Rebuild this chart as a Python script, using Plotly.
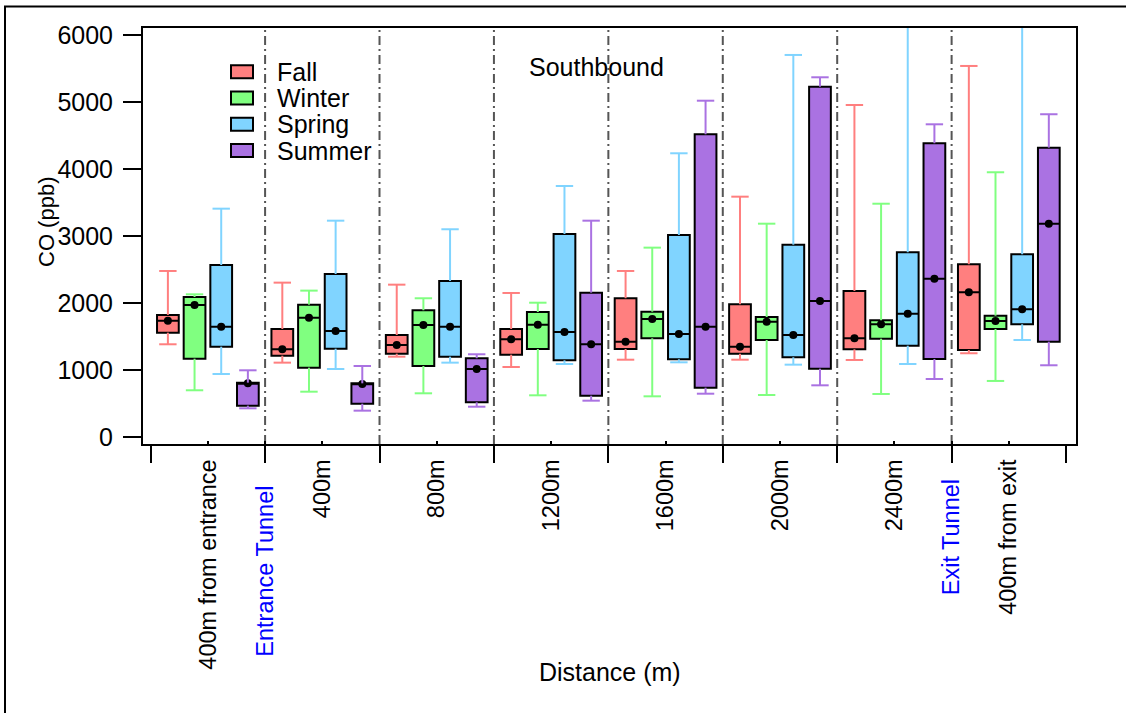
import plotly.graph_objects as go

# ---- data: CO concentration (ppb) along the tunnel, southbound ----
groups = ["400m from entrance", "400m", "800m", "1200m", "1600m", "2000m", "2400m", "400m from exit"]
seasons = ["Fall", "Winter", "Spring", "Summer"]

fall_lower = [1387, 1113, 1202, 1048, 1157, 1157, 1153, 1253]
fall_q1 = [1560, 1217, 1247, 1232, 1317, 1247, 1312, 1302]
fall_median = [1739, 1312, 1376, 1461, 1426, 1351, 1476, 2162]
fall_q3 = [1825, 1615, 1525, 1615, 2073, 1983, 2182, 2580]
fall_upper = [2480, 2306, 2276, 2152, 2480, 3588, 4955, 5537]

winter_lower = [701, 680, 656, 626, 611, 631, 646, 840]
winter_q1 = [1172, 1038, 1063, 1317, 1476, 1451, 1470, 1615]
winter_median = [1973, 1784, 1675, 1679, 1764, 1724, 1685, 1734]
winter_q3 = [2092, 1978, 1894, 1868, 1873, 1794, 1745, 1813]
winter_upper = [2132, 2187, 2073, 2007, 2828, 3185, 3483, 3952]

spring_lower = [944, 1018, 1113, 1093, 1118, 1083, 1093, 1451]
spring_q1 = [1351, 1321, 1202, 1148, 1163, 1193, 1366, 1685]
spring_median = [1649, 1585, 1649, 1570, 1540, 1525, 1843, 1909]
spring_q3 = [2569, 2435, 2331, 3032, 3017, 2872, 2759, 2729]
spring_upper = [3409, 3230, 3102, 3747, 4235, 5701, 6400, 6400]

summer_lower = [432, 397, 456, 546, 650, 775, 869, 1074]
summer_q1 = [472, 501, 522, 620, 740, 1023, 1168, 1426]
summer_median = [805, 795, 1018, 1387, 1649, 2033, 2365, 3185]
summer_q3 = [815, 805, 1178, 2157, 4518, 5228, 4384, 4319]
summer_upper = [999, 1063, 1238, 3230, 5019, 5368, 4667, 4817]

# tick labels: group names plus the two tunnel portals (on the group boundaries);
# trailing no-break spaces push the portal labels below the long boundary ticks
NB = "\u00a0"
tick_positions = [0, 0.5, 1, 2, 3, 4, 5, 6, 6.5, 7]
tick_labels = [
    "400m from entrance",
    '<span style="color:#0000FF">Entrance Tunnel</span>' + NB * 4,
    "400m", "800m", "1200m", "1600m", "2000m", "2400m",
    '<span style="color:#0000FF">Exit Tunnel</span>' + NB * 3,
    "400m from exit",
]
y_ticks = [0, 1000, 2000, 3000, 4000, 5000, 6000]

stats = {
    "Fall": (fall_lower, fall_q1, fall_median, fall_q3, fall_upper),
    "Winter": (winter_lower, winter_q1, winter_median, winter_q3, winter_upper),
    "Spring": (spring_lower, spring_q1, spring_median, spring_q3, spring_upper),
    "Summer": (summer_lower, summer_q1, summer_median, summer_q3, summer_upper),
}
colors = {"Fall": "#FF7F7F", "Winter": "#80FF80", "Spring": "#80D4FF", "Summer": "#AA72E2"}

# ---- geometry ----
W, H = 1126, 713
ML, MR, MT, MB = 143, 50, 28, 269
PW, PH = W - ML - MR, H - MT - MB
FONT = "Liberation Sans"
FS = 25

step = 0.233          # spacing between seasons inside a group
box_w = 0.19          # box width in axis units
cap = 0.076           # half width of whisker caps
offsets = [(k - 1.5) * step for k in range(len(seasons))]
n = len(groups)
boundaries = [i - 0.5 for i in range(n + 1)]


def px_x(p):
    return (p - ML) / PW


def px_y(p):
    return (MT + PH - p) / PH


fig = go.Figure()

for k, s in enumerate(seasons):
    lo, q1, med, q3, up = stats[s]
    xs = [i + offsets[k] for i in range(n)]
    # the box itself (whiskers are drawn separately in the season colour)
    fig.add_trace(go.Box(
        x=xs, q1=q1, median=med, q3=q3, lowerfence=q1, upperfence=q3,
        width=box_w, whiskerwidth=0, fillcolor=colors[s],
        line=dict(color="black", width=2), name=s, showlegend=False,
        hoverinfo="skip",
    ))

for k, s in enumerate(seasons):
    lo, q1, med, q3, up = stats[s]
    wx, wy = [], []
    for i in range(n):
        x = i + offsets[k]
        wx += [x, x, None, x - cap, x + cap, None, x, x, None, x - cap, x + cap, None]
        wy += [q3[i], up[i], None, up[i], up[i], None, q1[i], lo[i], None, lo[i], lo[i], None]
    fig.add_trace(go.Scatter(
        x=wx, y=wy, mode="lines", line=dict(color=colors[s], width=2),
        showlegend=False, hoverinfo="skip", xaxis="x2",
    ))

for k, s in enumerate(seasons):
    lo, q1, med, q3, up = stats[s]
    fig.add_trace(go.Scatter(
        x=[i + offsets[k] for i in range(n)], y=med, mode="markers",
        marker=dict(color="black", size=8), showlegend=False, hoverinfo="skip",
    ))

# dash-dot separators between locations
shapes = []
for b in boundaries[1:-1]:
    shapes.append(dict(type="line", xref="x", yref="paper", x0=b, x1=b, y0=0, y1=1,
                       line=dict(color="#555555", width=2, dash="9px,4px,2px,4px"),
                       layer="below"))

# outer frame
shapes.append(dict(type="rect", xref="paper", yref="paper",
                   x0=px_x(5), x1=px_x(1300), y0=px_y(900), y1=px_y(6.5),
                   line=dict(color="black", width=2), fillcolor="rgba(0,0,0,0)"))

annotations = []
# legend
for k, s in enumerate(seasons):
    yc = 71.7 + k * 26.3
    shapes.append(dict(type="rect", xref="paper", yref="paper",
                       x0=px_x(231), x1=px_x(253), y0=px_y(yc + 6.5), y1=px_y(yc - 6.5),
                       fillcolor=colors[s], line=dict(color="black", width=2)))
    annotations.append(dict(text=s, xref="paper", yref="paper", x=px_x(275), y=px_y(yc),
                            xanchor="left", yanchor="middle", showarrow=False,
                            font=dict(size=FS, family=FONT, color="black")))

annotations.append(dict(text="Southbound", xref="paper", yref="paper", x=px_x(596), y=px_y(67),
                        xanchor="center", yanchor="middle", showarrow=False,
                        font=dict(size=FS, family=FONT, color="black")))
annotations.append(dict(text="Distance (m)", xref="paper", yref="paper", x=px_x(610), y=px_y(672),
                        xanchor="center", yanchor="middle", showarrow=False,
                        font=dict(size=FS, family=FONT, color="black")))
annotations.append(dict(text="CO (ppb)", xref="paper", yref="paper", x=px_x(46), y=px_y(222),
                        xanchor="center", yanchor="middle", showarrow=False, textangle=-90,
                        font=dict(size=22, family=FONT, color="black")))

xrange = [-0.567, 7.587]
fig.update_layout(
    width=W, height=H,
    margin=dict(l=ML, r=MR, t=MT, b=MB, pad=0),
    paper_bgcolor="white", plot_bgcolor="white",
    font=dict(family=FONT, size=FS, color="black"),
    boxmode="overlay",
    showlegend=False,
    shapes=shapes,
    annotations=annotations,
    xaxis=dict(
        range=xrange, tickmode="array", tickvals=tick_positions, ticktext=tick_labels,
        tickangle=-90, ticks="inside", ticklen=3, tickwidth=1.5, tickcolor="black",
        showline=True, mirror=True, linecolor="black", linewidth=2,
        showgrid=False, zeroline=False, tickfont=dict(size=23.5, family=FONT),
        ticklabelstandoff=4,
    ),
    xaxis2=dict(
        range=xrange, overlaying="x", anchor="y", side="bottom",
        tickmode="array", tickvals=boundaries, ticks="outside", ticklen=18,
        tickwidth=2, tickcolor="black", showticklabels=False,
        showline=False, showgrid=False, zeroline=False,
    ),
    yaxis=dict(
        range=[-100, 6103], tickmode="array", tickvals=y_ticks,
        ticks="outside", ticklen=18, tickwidth=2, tickcolor="black",
        showline=True, mirror=True, linecolor="black", linewidth=2,
        showgrid=False, zeroline=False, tickfont=dict(size=FS, family=FONT),
        ticklabelstandoff=5,
    ),
)

fig.write_html("out.html")
